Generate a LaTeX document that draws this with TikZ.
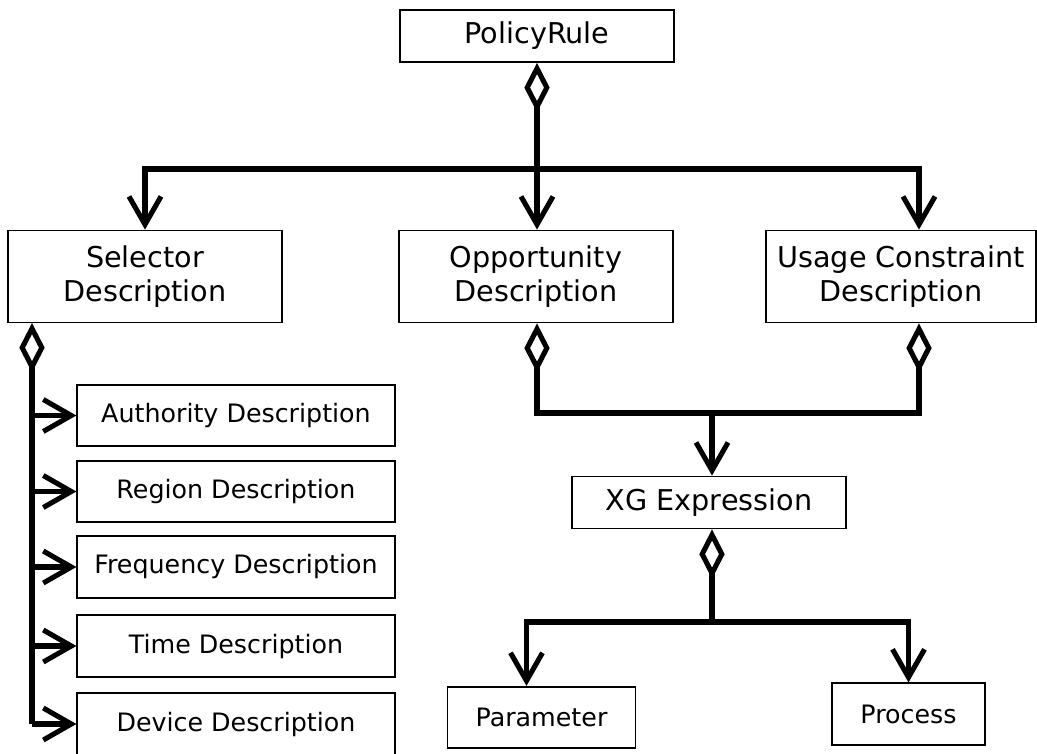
\documentclass[tikz,border=0pt]{standalone}
\usepackage{fontspec}
\setmainfont{DejaVu Sans}
\usetikzlibrary{arrows.meta,positioning,calc}

\begin{document}
\begin{tikzpicture}[x=0.75pt, y=-0.75pt,
    box/.style={rectangle, draw, line width=1.4pt, inner sep=0pt, align=center},
    bigbox/.style={box, minimum width=205pt, minimum height=69pt, font=\fontsize{21.5pt}{25.5pt}\selectfont},
    namebox/.style={box, minimum width=205pt, minimum height=39pt, font=\fontsize{21.5pt}{25.5pt}\selectfont},
    smallbox/.style={box, minimum width=238pt, minimum height=46pt, font=\fontsize{19pt}{23pt}\selectfont},
    leafbox/.style={box, minimum height=46pt, font=\fontsize{19pt}{23pt}\selectfont},
    link/.style={line width=3.8pt},
    arrow/.style={link, -{Straight Barb[length=21pt, width=24pt]}},
    agg/.style={link, {Diamond[open, length=37pt, width=19pt]}-}
]
\useasboundingbox (0,0) rectangle (1037,753);

% top rule and its three parts
\node[namebox] (policy) at (537,36) {PolicyRule};
\node[bigbox] (sel) at (145,276.5) {Selector\\Description};
\node[bigbox] (opp) at (536,276.5) {Opportunity\\Description};
\node[bigbox, minimum width=203pt] (usage) at (901,276.5) {Usage Constraint\\Description};

\coordinate (topbus) at (537,169);
\draw[agg] (topbus |- policy.south) -- (topbus);
\draw[arrow] (topbus) -| (sel.north);
\draw[arrow] (topbus) -- (topbus |- opp.north);
\draw[arrow] (topbus) -| ($(usage.north)+(18,0)$);

% selector descriptions on the left
\node[smallbox] (auth) at (236,415.5) {Authority Description};
\node[smallbox] (region) at (236,491.5) {Region Description};
\node[smallbox] (freq) at (236,567) {Frequency Description};
\node[smallbox] (time) at (236,646) {Time Description};
\node[smallbox] (dev) at (236,724) {Device Description};

\coordinate (selroot) at (32,323);
\draw[agg] (selroot) -- (selroot |- dev.west);
\draw[arrow] (selroot |- auth.west) -- (auth.west);
\draw[arrow] (selroot |- region.west) -- (region.west);
\draw[arrow] (selroot |- freq.west) -- (freq.west);
\draw[arrow] (selroot |- time.west) -- (time.west);
\draw[arrow] (selroot |- dev.west) -- (dev.west);

% expression shared by opportunity and usage constraint
\node[namebox] (xg) at (709,502.5) {XG Expression};
\coordinate (midbus) at (712,413);
\draw[link, {Diamond[open, length=37pt, width=19pt]}-{Diamond[open, length=37pt, width=19pt]}]
    (topbus |- opp.south) |- (midbus) -| ($(usage.south)+(18,0)$);
\draw[arrow] (midbus) -- (midbus |- xg.north);

% parameter and process
\node[leafbox, minimum width=141pt] (param) at (541.5,717.5) {Parameter};
\node[leafbox, minimum width=115pt] (proc) at (908.5,714) {Process};

\coordinate (lowbus) at (712,622);
\draw[agg] (midbus |- xg.south) -- (lowbus);
\draw[arrow] (lowbus) -| ($(param.north)+(-15,0)$);
\draw[arrow] (lowbus) -| (proc.north);

\end{tikzpicture}
\end{document}
